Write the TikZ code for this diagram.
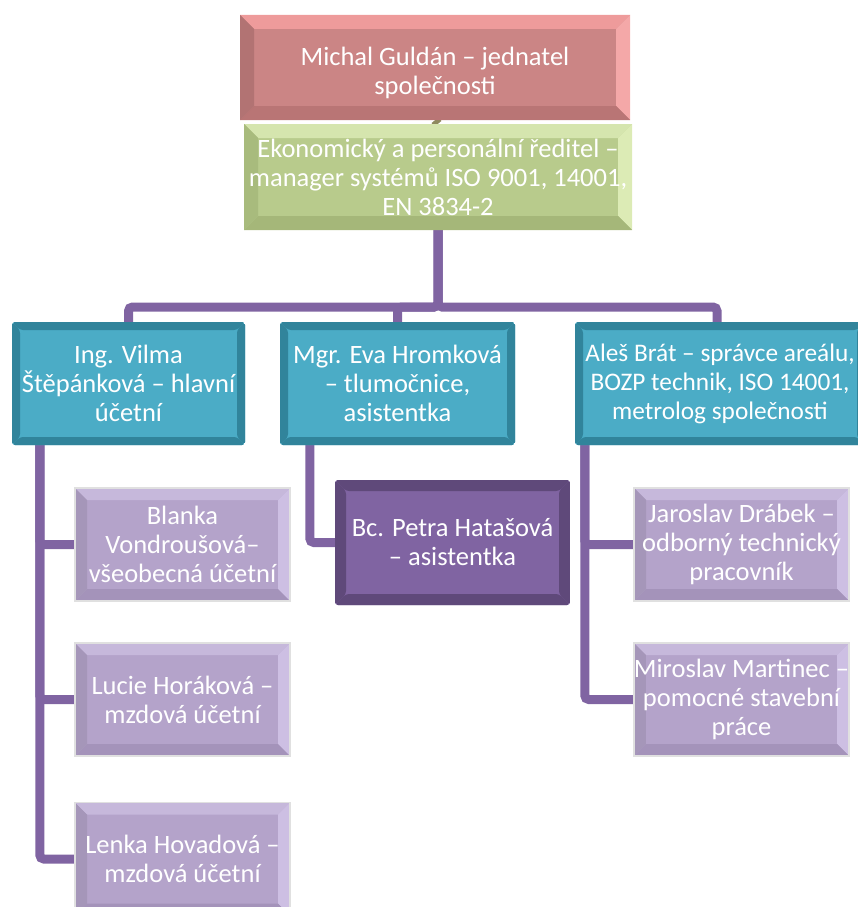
\documentclass[tikz,border=0pt]{standalone}
\usepackage{fontspec}
\setmainfont{Carlito}
\pgfdeclarelayer{background}
\pgfsetlayers{background,main}

% connector and panel colours
\definecolor{linkc}{HTML}{8064A2}
\definecolor{tabc}{HTML}{8E8A5E}
\definecolor{redF}{HTML}{CB8585}\definecolor{redT}{HTML}{EE9B9B}\definecolor{redR}{HTML}{F4A8A8}\definecolor{redB}{HTML}{B97575}\definecolor{redL}{HTML}{B27373}
\definecolor{grnF}{HTML}{B8CB8C}\definecolor{grnT}{HTML}{D5E5AE}\definecolor{grnR}{HTML}{DCEBB5}\definecolor{grnB}{HTML}{A5B779}\definecolor{grnL}{HTML}{A8BB7D}
\definecolor{bluF}{HTML}{4BACC6}\definecolor{bluR}{HTML}{31849B}
\definecolor{vioF}{HTML}{8064A2}\definecolor{vioR}{HTML}{5F497A}
\definecolor{lavF}{HTML}{B4A3CA}\definecolor{lavT}{HTML}{C6B8DB}\definecolor{lavR}{HTML}{CDBFE3}\definecolor{lavB}{HTML}{A493BA}\definecolor{lavL}{HTML}{A596B9}

\tikzset{
  bev depth/.store in=\bevD, bev depth=10pt,
  bev face/.store in=\bevF, bev top/.store in=\bevT, bev right/.store in=\bevR,
  bev bottom/.store in=\bevB, bev left/.store in=\bevL,
  bev face=white, bev top=white, bev right=white, bev bottom=white, bev left=white,
  % bevelled rectangle: four rim trapezoids around a flat face
  panel/.style={inner sep=0pt, align=center, text=white,
    font=\fontsize{26.5}{29}\selectfont,
    path picture={
      \path (path picture bounding box.south west) coordinate (p1)
            (path picture bounding box.north east) coordinate (p2)
            (path picture bounding box.north west) coordinate (p3)
            (path picture bounding box.south east) coordinate (p4);
      \fill[fill=\bevF] (p1) rectangle (p2);
      \fill[fill=\bevT] (p3) -- (p2) -- ([shift={(-\bevD,-\bevD)}]p2) -- ([shift={(\bevD,-\bevD)}]p3) -- cycle;
      \fill[fill=\bevR] (p2) -- (p4) -- ([shift={(-\bevD,\bevD)}]p4) -- ([shift={(-\bevD,-\bevD)}]p2) -- cycle;
      \fill[fill=\bevB] (p4) -- (p1) -- ([shift={(\bevD,\bevD)}]p1) -- ([shift={(-\bevD,\bevD)}]p4) -- cycle;
      \fill[fill=\bevL] (p1) -- (p3) -- ([shift={(\bevD,-\bevD)}]p3) -- ([shift={(\bevD,\bevD)}]p1) -- cycle;
    }},
  redbox/.style={panel, bev depth=14pt, bev face=redF, bev top=redT, bev right=redR, bev bottom=redB, bev left=redL},
  greenbox/.style={panel, bev depth=14pt, bev face=grnF, bev top=grnT, bev right=grnR, bev bottom=grnB, bev left=grnL},
  bluebox/.style={panel, rounded corners=3pt, bev depth=8pt, bev face=bluF, bev top=bluR, bev right=bluR, bev bottom=bluR, bev left=bluR,
    minimum width=233pt, minimum height=123pt},
  violetbox/.style={panel, rounded corners=3pt, bev depth=11pt, bev face=vioF, bev top=vioR, bev right=vioR, bev bottom=vioR, bev left=vioR},
  lavbox/.style={panel, bev depth=12pt, bev face=lavF, bev top=lavT, bev right=lavR, bev bottom=lavB, bev left=lavL,
    draw=black!12, line width=1.5pt, minimum width=215pt, minimum height=113pt},
  link/.style={draw=linkc, line width=9pt, rounded corners=4pt}
}

\begin{document}
\begin{tikzpicture}[x=1pt,y=1pt]
\useasboundingbox (0,0) rectangle (858,-907);

% management (the empty first row lowers the two lines a little)
\node[redbox, minimum width=390pt, minimum height=105pt] (boss) at (435,-67.5)
  {\rule{0pt}{0pt}\\ Michal Guldán – jednatel\\ společnosti};
\node[greenbox, minimum width=388pt, minimum height=106pt] (econ) at (438,-177)
  {Ekonomický a personální ředitel –\\ manager systémů ISO 9001, 14001,\\ EN 3834-2};

% department heads
\node[bluebox] (acct) at (128.5,-383.5) {Ing. Vilma\\ Štěpánková – hlavní\\ účetní};
\node[bluebox, minimum width=235pt] (transl) at (397.5,-383.5) {Mgr. Eva Hromková\\ – tlumočnice,\\ asistentka};
\node[bluebox, minimum width=290pt, font=\fontsize{25.3}{29}\selectfont] (site) at (720,-383.5) {Aleš Brát – správce areálu,\\ BOZP technik, ISO 14001,\\ metrolog společnosti};

% staff
\node[lavbox] (blanka) at (182.5,-544.5) {Blanka\\ Vondroušová–\\ všeobecná účetní};
\node[lavbox] (lucie) at (182.5,-699.5) {Lucie Horáková –\\ mzdová účetní};
\node[lavbox] (lenka) at (182.5,-859) {Lenka Hovadová –\\ mzdová účetní};
\node[violetbox, minimum width=235pt, minimum height=125pt] (petra) at (452.5,-542.5) {Bc. Petra Hatašová\\ – asistentka};
\node[lavbox] (jaroslav) at (741.5,-544.5) {Jaroslav Drábek –\\ odborný technický\\ pracovník};
\node[lavbox] (miroslav) at (741.5,-699.5) {Miroslav Martinec –\\ pomocné stavební\\ práce};

% connectors
\coordinate (bar) at (437,-307);
\begin{pgfonlayer}{background}
  \draw[link, draw=tabc] (boss.south) -- (econ.north);
  \draw[link] (econ.south) -- (econ.south |- bar) -| (acct.north);
  \draw[link] (econ.south) -- (econ.south |- bar) -| (transl.north);
  \draw[link] (econ.south) -- (econ.south |- bar) -| ([xshift=-3pt]site.north);
  \draw[link] ([shift={(28pt,6pt)}]acct.south west) |- (blanka.west);
  \draw[link] ([shift={(28pt,6pt)}]acct.south west) |- (lucie.west);
  \draw[link] ([shift={(28pt,6pt)}]acct.south west) |- (lenka.west);
  \draw[link] ([shift={(30pt,6pt)}]transl.south west) |- (petra.west);
  \draw[link] ([shift={(10pt,6pt)}]site.south west) |- (jaroslav.west);
  \draw[link] ([shift={(10pt,6pt)}]site.south west) |- (miroslav.west);
\end{pgfonlayer}
\end{tikzpicture}
\end{document}
